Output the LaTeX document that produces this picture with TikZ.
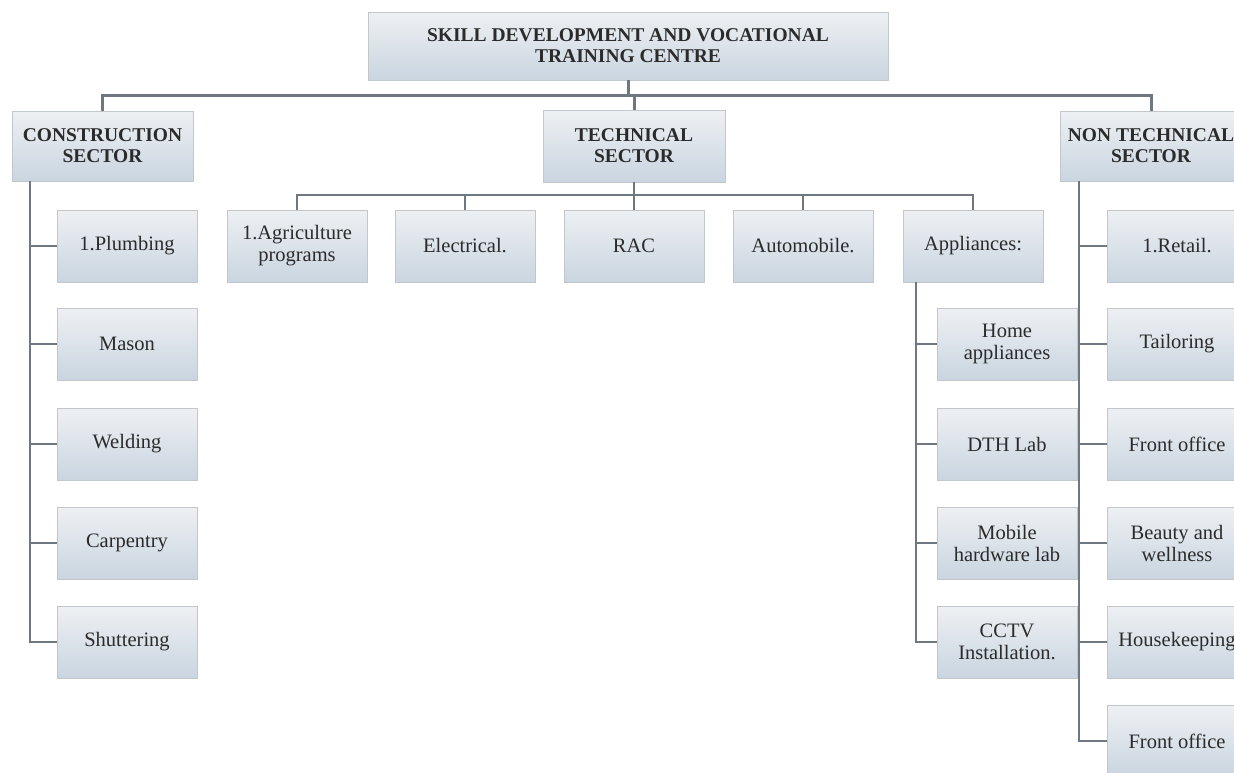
\documentclass[tikz,border=0pt]{standalone}
\usepackage{fontspec}
\setmainfont{Liberation Serif}
\begin{document}
\begin{tikzpicture}[x=1pt,y=-1pt,
  box/.style={draw=boxline, line width=0.8pt, top color=boxtop, bottom color=boxbot,
    align=center, text=txt, inner sep=2pt, font=\fontsize{20.5}{22}\selectfont},
  head/.style={box, font=\bfseries\fontsize{19.5}{21}\selectfont},
  leaf/.style={box, minimum width=140, minimum height=72},
  link/.style={draw=conn, line width=3pt},
  sub/.style={draw=conn, line width=2pt}]
\definecolor{boxtop}{HTML}{EEF0F3}
\definecolor{boxbot}{HTML}{C9D5E0}
\definecolor{boxline}{HTML}{C2C7CC}
\definecolor{conn}{HTML}{6F7880}
\definecolor{txt}{HTML}{2B2B2B}
\useasboundingbox (0,0) rectangle (1234,772);
% header nodes
\node[head, minimum width=520, minimum height=68] (top) at (628,46) {SKILL DEVELOPMENT AND VOCATIONAL\\TRAINING CENTRE};
\node[head, minimum width=181, minimum height=70] (cons) at (102.5,146) {CONSTRUCTION\\SECTOR};
\node[head, minimum width=182, minimum height=72] (tech) at (634,146) {TECHNICAL\\SECTOR};
\node[head, minimum width=182, minimum height=70] (ntech) at (1151,146) {NON TECHNICAL\\SECTOR};
% technical children
\node[leaf] (agri) at (297,246) {1.Agriculture\\programs};
\node[leaf] (elec) at (465,246) {Electrical.};
\node[leaf] (rac) at (634,246) {RAC};
\node[leaf] (auto) at (803,246) {Automobile.};
\node[leaf] (app) at (973,246) {Appliances:};
% construction children
\node[leaf] (plumb) at (127,246) {1.Plumbing};
\node[leaf] (mason) at (127,344) {Mason};
\node[leaf] (weld) at (127,444) {Welding};
\node[leaf] (carp) at (127,543) {Carpentry};
\node[leaf] (shut) at (127,642) {Shuttering};
% appliances children
\node[leaf] (home) at (1007,344) {Home\\appliances};
\node[leaf] (dth) at (1007,444) {DTH Lab};
\node[leaf] (mob) at (1007,543) {Mobile\\hardware lab};
\node[leaf] (cctv) at (1007,642) {CCTV\\Installation.};
% non technical children
\node[leaf] (retail) at (1177,246) {1.Retail.};
\node[leaf] (tail) at (1177,344) {Tailoring};
\node[leaf] (front) at (1177,444) {Front office};
\node[leaf] (beauty) at (1177,543) {Beauty and\\wellness};
\node[leaf] (house) at (1177,642) {Housekeeping};
\node[leaf] (front2) at (1177,741) {Front office};
% buses
\coordinate (bus) at (628,95);
\coordinate (tbus) at (634,195);
\coordinate (cspine) at (30,181);
\coordinate (aspine) at (916,282);
\coordinate (nspine) at (1079,181);
\path[link] (top.south) -- (top.south |- bus);
\path[link] (cons.north) -- (cons.north |- bus) -- (ntech.north |- bus) -- (ntech.north);
\path[link] (tech.north) -- (tech.north |- bus);
\path[sub] (tech.south) -- (tbus);
\path[sub] (agri.north) -- (agri.north |- tbus) -- (app.north |- tbus) -- (app.north);
\path[sub] (elec.north) -- (elec.north |- tbus);
\path[sub] (rac.north) -- (rac.north |- tbus);
\path[sub] (auto.north) -- (auto.north |- tbus);
% construction spine
\path[sub] (cspine) |- (shut.west);
\foreach \n in {plumb,mason,weld,carp} \path[sub] (cspine |- \n.west) -- (\n.west);
% appliances spine
\path[sub] (aspine) |- (cctv.west);
\foreach \n in {home,dth,mob} \path[sub] (aspine |- \n.west) -- (\n.west);
% non technical spine
\path[sub] (nspine) |- (front2.west);
\foreach \n in {retail,tail,front,beauty,house} \path[sub] (nspine |- \n.west) -- (\n.west);
\end{tikzpicture}
\end{document}
